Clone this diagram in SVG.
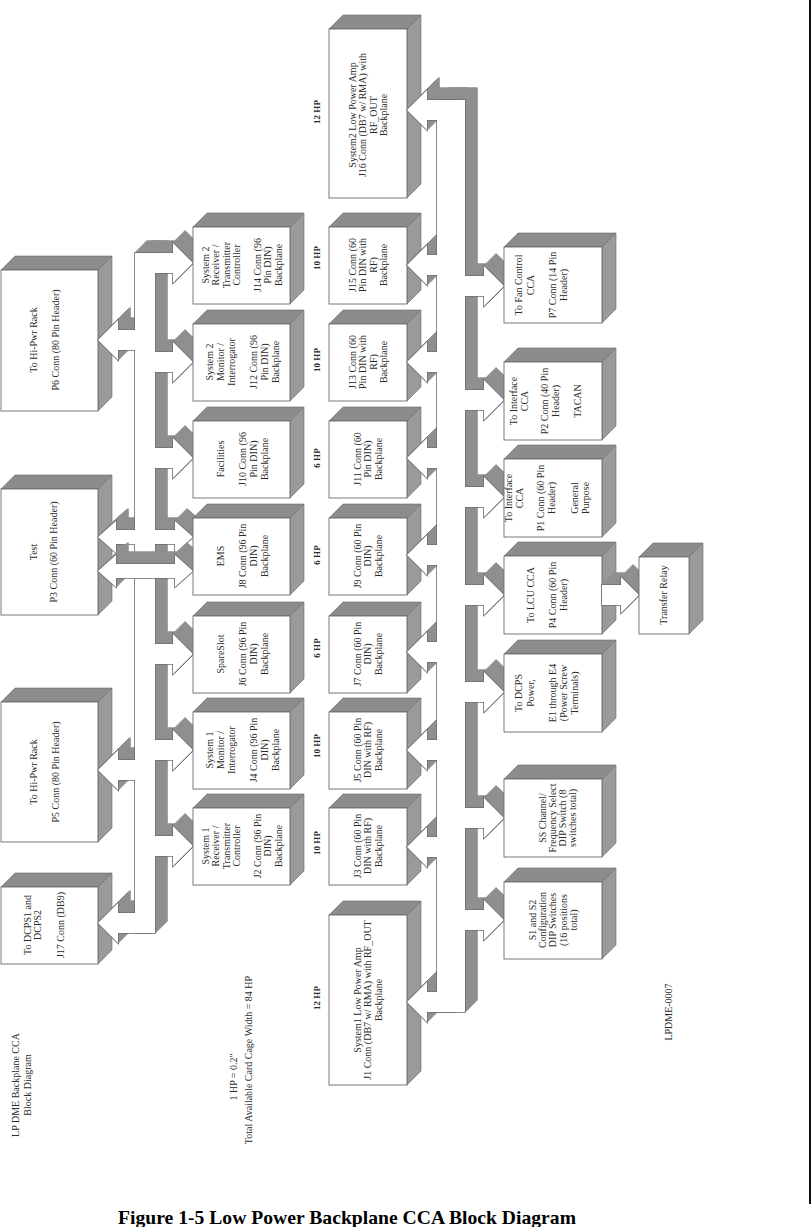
<svg xmlns="http://www.w3.org/2000/svg" width="812" height="1227" viewBox="0 0 812 1227">
<style>
.ft{fill:#fff;stroke:#6a6a6a;stroke-width:0.9}
.tp{fill:#8c8c8c;stroke:#6a6a6a;stroke-width:0.6}
.sd{fill:#9a9a9a;stroke:#6a6a6a;stroke-width:0.6}
.ex{fill:#8f8f8f;stroke:#8f8f8f;stroke-width:1.6;stroke-linejoin:round}
.ol{fill:none;stroke:#6e6e6e;stroke-width:1.6}
.wf{fill:#fff;stroke:none}
.t{font-family:"Liberation Serif","Times New Roman",serif;font-size:10px;fill:#2a2a2a;text-anchor:middle}
.hp{font-family:"Liberation Serif","Times New Roman",serif;font-size:9px;font-weight:bold;fill:#2a2a2a;text-anchor:middle}
.cap{font-family:"Liberation Serif","Times New Roman",serif;font-size:19px;font-weight:bold;fill:#000}
</style>
<defs>
<g id="cf">
<rect x="135" y="253" width="20" height="680"/>
<polygon points="140,253 173,253 173,243 193,263 173,283 173,273 140,273"/>
<polygon points="145,352 173,352 173,342 193,362 173,382 173,372 145,372"/>
<polygon points="145,448 173,448 173,438 193,458 173,478 173,468 145,468"/>
<polygon points="145,644 173,644 173,634 193,654 173,674 173,664 145,664"/>
<polygon points="145,740 173,740 173,730 193,750 173,770 173,760 145,760"/>
<polygon points="145,836 173,836 173,826 193,846 173,866 173,856 145,856"/>
<polygon points="145,330 118,330 118,320 98,340 118,360 118,350 145,350"/>
<polygon points="145,760 118,760 118,750 98,770 118,790 118,780 145,780"/>
<polygon points="150,913 118,913 118,903 98,923 118,943 118,933 150,933"/>
<polygon points="98,537 116,521 116,530 175,530 175,521 193,537 175,553 175,544 116,544 116,553"/>
<rect x="437" y="100" width="28" height="912"/>
<polygon points="455,100 427,100 427,90 407,110 427,130 427,120 455,120"/>
<polygon points="455,255 427,255 427,245 407,265 427,285 427,275 455,275"/>
<polygon points="455,352 427,352 427,342 407,362 427,382 427,372 455,372"/>
<polygon points="455,448 427,448 427,438 407,458 427,478 427,468 455,468"/>
<polygon points="455,545 427,545 427,535 407,555 427,575 427,565 455,565"/>
<polygon points="455,642 427,642 427,632 407,652 427,672 427,662 455,662"/>
<polygon points="455,740 427,740 427,730 407,750 427,770 427,760 455,760"/>
<polygon points="455,837 427,837 427,827 407,847 427,867 427,857 455,857"/>
<polygon points="455,992 427,992 427,982 407,1002 427,1022 427,1012 455,1012"/>
<polygon points="450,276 484,276 484,266 504,286 484,306 484,296 450,296"/>
<polygon points="450,390 484,390 484,380 504,400 484,420 484,410 450,410"/>
<polygon points="450,487 484,487 484,477 504,497 484,517 484,507 450,507"/>
<polygon points="450,585 484,585 484,575 504,595 484,615 484,605 450,605"/>
<polygon points="450,682 484,682 484,672 504,692 484,712 484,702 450,702"/>
<polygon points="450,808 484,808 484,798 504,818 484,838 484,828 450,828"/>
<polygon points="450,910 484,910 484,900 504,920 484,940 484,930 450,930"/>
</g>
<g id="cfB">
<polygon points="98,571 116,555 116,564 175,564 175,555 193,571 175,587 175,578 116,578 116,587"/>
</g>
<g id="cfR">
<polygon points="602,585 621,585 621,577 639,595 621,613 621,605 602,605"/>
</g>
</defs>

<g id="n-p6"><polygon class="tp" points="1,270 15,256 112,256 98,270"/><polygon class="sd" points="98,270 112,256 112,397 98,411"/><rect class="ft" x="1" y="270" width="97" height="141"/>
<text class="t" transform="translate(0,340) rotate(-90)"><tspan x="0" y="36.5">To Hi-Pwr Rack</tspan><tspan x="0" y="58.5">P6 Conn (80 Pin Header)</tspan></text></g>
<g id="n-p3"><polygon class="tp" points="1,489 15,475 112,475 98,489"/><polygon class="sd" points="98,489 112,475 112,601 98,615"/><rect class="ft" x="1" y="489" width="97" height="126"/>
<text class="t" transform="translate(0,552) rotate(-90)"><tspan x="0" y="36.5">Test</tspan><tspan x="0" y="56.5">P3 Conn (60 Pin Header)</tspan></text></g>
<g id="n-p5"><polygon class="tp" points="1,702 15,688 112,688 98,702"/><polygon class="sd" points="98,702 112,688 112,828 98,842"/><rect class="ft" x="1" y="702" width="97" height="140"/>
<text class="t" transform="translate(0,772) rotate(-90)"><tspan x="0" y="36.5">To Hi-Pwr Rack</tspan><tspan x="0" y="58.5">P5 Conn (80 Pin Header)</tspan></text></g>
<g id="n-j17"><polygon class="tp" points="1,887 15,873 112,873 98,887"/><polygon class="sd" points="98,887 112,873 112,950 98,964"/><rect class="ft" x="1" y="887" width="97" height="77"/>
<text class="t" transform="translate(0,925) rotate(-90)"><tspan x="0" y="30.5">To DCPS1 and</tspan><tspan x="0" y="40.5">DCPS2</tspan><tspan x="0" y="63.5">J17 Conn (DB9)</tspan></text></g>

<g id="n-j16"><polygon class="tp" points="329,29 343,15 421,15 407,29"/><polygon class="sd" points="407,29 421,15 421,184 407,198"/><rect class="ft" x="329" y="29" width="78" height="169"/>
<text class="t" transform="translate(0,115) rotate(-90)"><tspan x="0" y="355.5">System2 Low Power Amp</tspan><tspan x="0" y="366">J16 Conn (DB7 w/ RMA) with</tspan><tspan x="0" y="376.5">RF_OUT</tspan><tspan x="0" y="387">Backplane</tspan></text></g>
<g id="n-j15"><polygon class="tp" points="329,227 343,213 421,213 407,227"/><polygon class="sd" points="407,227 421,213 421,290 407,304"/><rect class="ft" x="329" y="227" width="78" height="77"/>
<text class="t" transform="translate(0,265) rotate(-90)"><tspan x="0" y="355.5">J15 Conn (60</tspan><tspan x="0" y="366">Pin DIN with</tspan><tspan x="0" y="376.5">RF)</tspan><tspan x="0" y="387">Backplane</tspan></text></g>
<g id="n-j13"><polygon class="tp" points="329,324 343,310 421,310 407,324"/><polygon class="sd" points="407,324 421,310 421,387 407,401"/><rect class="ft" x="329" y="324" width="78" height="77"/>
<text class="t" transform="translate(0,362) rotate(-90)"><tspan x="0" y="355.5">J13 Conn (60</tspan><tspan x="0" y="366">Pin DIN with</tspan><tspan x="0" y="376.5">RF)</tspan><tspan x="0" y="387">Backplane</tspan></text></g>
<g id="n-j11"><polygon class="tp" points="329,421 343,407 421,407 407,421"/><polygon class="sd" points="407,421 421,407 421,484 407,498"/><rect class="ft" x="329" y="421" width="78" height="77"/>
<text class="t" transform="translate(0,459) rotate(-90)"><tspan x="0" y="360.5">J11 Conn (60</tspan><tspan x="0" y="371">Pin DIN)</tspan><tspan x="0" y="381.5">Backplane</tspan></text></g>
<g id="n-j9"><polygon class="tp" points="329,518 343,504 421,504 407,518"/><polygon class="sd" points="407,518 421,504 421,581 407,595"/><rect class="ft" x="329" y="518" width="78" height="77"/>
<text class="t" transform="translate(0,556) rotate(-90)"><tspan x="0" y="360.5">J9 Conn (60 Pin</tspan><tspan x="0" y="371">DIN)</tspan><tspan x="0" y="381.5">Backplane</tspan></text></g>
<g id="n-j7"><polygon class="tp" points="329,616 343,602 421,602 407,616"/><polygon class="sd" points="407,616 421,602 421,679 407,693"/><rect class="ft" x="329" y="616" width="78" height="77"/>
<text class="t" transform="translate(0,654) rotate(-90)"><tspan x="0" y="360.5">J7 Conn (60 Pin</tspan><tspan x="0" y="371">DIN)</tspan><tspan x="0" y="381.5">Backplane</tspan></text></g>
<g id="n-j5"><polygon class="tp" points="329,712 343,698 421,698 407,712"/><polygon class="sd" points="407,712 421,698 421,775 407,789"/><rect class="ft" x="329" y="712" width="78" height="77"/>
<text class="t" transform="translate(0,750) rotate(-90)"><tspan x="0" y="360.5">J5 Conn (60 Pin</tspan><tspan x="0" y="371">DIN with RF)</tspan><tspan x="0" y="381.5">Backplane</tspan></text></g>
<g id="n-j3"><polygon class="tp" points="329,808 343,794 421,794 407,808"/><polygon class="sd" points="407,808 421,794 421,871 407,885"/><rect class="ft" x="329" y="808" width="78" height="77"/>
<text class="t" transform="translate(0,846) rotate(-90)"><tspan x="0" y="360.5">J3 Conn (60 Pin</tspan><tspan x="0" y="371">DIN with RF)</tspan><tspan x="0" y="381.5">Backplane</tspan></text></g>
<g id="n-j1"><polygon class="tp" points="329,915 343,901 421,901 407,915"/><polygon class="sd" points="407,915 421,901 421,1071 407,1085"/><rect class="ft" x="329" y="915" width="78" height="170"/>
<text class="t" transform="translate(0,1000) rotate(-90)"><tspan x="0" y="360.5">System1 Low Power Amp</tspan><tspan x="0" y="371">J1 Conn (DB7 w/ RMA) with RF_OUT</tspan><tspan x="0" y="381.5">Backplane</tspan></text></g>

<g id="connectors">
<g class="ex">
<use href="#cf" transform="translate(1,-1)"/><use href="#cf" transform="translate(2,-2)"/><use href="#cf" transform="translate(3,-3)"/><use href="#cf" transform="translate(4,-4)"/><use href="#cf" transform="translate(5,-5)"/><use href="#cf" transform="translate(6,-6)"/><use href="#cf" transform="translate(7,-7)"/><use href="#cf" transform="translate(8,-8)"/><use href="#cf" transform="translate(9,-9)"/><use href="#cf" transform="translate(10,-10)"/><use href="#cf" transform="translate(11,-11)"/><use href="#cf" transform="translate(12,-12)"/>
</g>
<use href="#cf" class="ol"/>
<use href="#cf" class="wf"/>
<g class="ex">
<use href="#cfB" transform="translate(1,-1)"/><use href="#cfB" transform="translate(2,-2)"/><use href="#cfB" transform="translate(3,-3)"/><use href="#cfB" transform="translate(4,-4)"/><use href="#cfB" transform="translate(5,-5)"/><use href="#cfB" transform="translate(6,-6)"/><use href="#cfB" transform="translate(7,-7)"/><use href="#cfB" transform="translate(8,-8)"/><use href="#cfB" transform="translate(9,-9)"/><use href="#cfB" transform="translate(10,-10)"/><use href="#cfB" transform="translate(11,-11)"/><use href="#cfB" transform="translate(12,-12)"/>
</g>
<use href="#cfB" class="ol"/>
<use href="#cfB" class="wf"/>
</g>

<g id="n-j14"><polygon class="tp" points="193,227 207,213 304,213 290,227"/><polygon class="sd" points="290,227 304,213 304,290 290,304"/><rect class="ft" x="193" y="227" width="97" height="77"/>
<text class="t" transform="translate(0,265) rotate(-90)"><tspan x="0" y="208.5">System 2</tspan><tspan x="0" y="219">Receiver /</tspan><tspan x="0" y="229.5">Transmitter</tspan><tspan x="0" y="240">Controller</tspan><tspan x="0" y="260.5">J14 Conn (96</tspan><tspan x="0" y="271">Pin DIN)</tspan><tspan x="0" y="281.5">Backplane</tspan></text></g>
<g id="n-j12"><polygon class="tp" points="193,324 207,310 304,310 290,324"/><polygon class="sd" points="290,324 304,310 304,387 290,401"/><rect class="ft" x="193" y="324" width="97" height="77"/>
<text class="t" transform="translate(0,362) rotate(-90)"><tspan x="0" y="212.5">System 2</tspan><tspan x="0" y="223.5">Monitor /</tspan><tspan x="0" y="234.5">Interrogator</tspan><tspan x="0" y="256.5">J12 Conn (96</tspan><tspan x="0" y="267.5">Pin DIN)</tspan><tspan x="0" y="278.5">Backplane</tspan></text></g>
<g id="n-j10"><polygon class="tp" points="193,421 207,407 304,407 290,421"/><polygon class="sd" points="290,421 304,407 304,484 290,498"/><rect class="ft" x="193" y="421" width="97" height="77"/>
<text class="t" transform="translate(0,459) rotate(-90)"><tspan x="0" y="223.5">Facilities</tspan><tspan x="0" y="245.5">J10 Conn (96</tspan><tspan x="0" y="256.5">Pin DIN)</tspan><tspan x="0" y="267.5">Backplane</tspan></text></g>
<g id="n-j8"><polygon class="tp" points="193,518 207,504 304,504 290,518"/><polygon class="sd" points="290,518 304,504 304,581 290,595"/><rect class="ft" x="193" y="518" width="97" height="77"/>
<text class="t" transform="translate(0,556) rotate(-90)"><tspan x="0" y="223.5">EMS</tspan><tspan x="0" y="245.5">J8 Conn (96 Pin</tspan><tspan x="0" y="256.5">DIN)</tspan><tspan x="0" y="267.5">Backplane</tspan></text></g>
<g id="n-j6"><polygon class="tp" points="193,616 207,602 304,602 290,616"/><polygon class="sd" points="290,616 304,602 304,679 290,693"/><rect class="ft" x="193" y="616" width="97" height="77"/>
<text class="t" transform="translate(0,654) rotate(-90)"><tspan x="0" y="223.5">SpareSlot</tspan><tspan x="0" y="245.5">J6 Conn (96 Pin</tspan><tspan x="0" y="256.5">DIN)</tspan><tspan x="0" y="267.5">Backplane</tspan></text></g>
<g id="n-j4"><polygon class="tp" points="193,712 207,698 304,698 290,712"/><polygon class="sd" points="290,712 304,698 304,775 290,789"/><rect class="ft" x="193" y="712" width="97" height="77"/>
<text class="t" transform="translate(0,750) rotate(-90)"><tspan x="0" y="212.5">System 1</tspan><tspan x="0" y="223.5">Monitor /</tspan><tspan x="0" y="234.5">Interrogator</tspan><tspan x="0" y="256.5">J4 Conn (96 Pin</tspan><tspan x="0" y="267.5">DIN)</tspan><tspan x="0" y="278.5">Backplane</tspan></text></g>
<g id="n-j2"><polygon class="tp" points="193,808 207,794 304,794 290,808"/><polygon class="sd" points="290,808 304,794 304,871 290,885"/><rect class="ft" x="193" y="808" width="97" height="77"/>
<text class="t" transform="translate(0,846) rotate(-90)"><tspan x="0" y="208.5">System 1</tspan><tspan x="0" y="219">Receiver /</tspan><tspan x="0" y="229.5">Transmitter</tspan><tspan x="0" y="240">Controller</tspan><tspan x="0" y="260.5">J2 Conn (96 Pin</tspan><tspan x="0" y="271">DIN)</tspan><tspan x="0" y="281.5">Backplane</tspan></text></g>

<g id="n-p7"><polygon class="tp" points="504,247 518,233 616,233 602,247"/><polygon class="sd" points="602,247 616,233 616,309 602,323"/><rect class="ft" x="504" y="247" width="98" height="76"/>
<text class="t" transform="translate(0,285) rotate(-90)"><tspan x="0" y="521.5">To Fan Control</tspan><tspan x="0" y="533.5">CCA</tspan><tspan x="0" y="555.5">P7 Conn (14 Pin</tspan><tspan x="0" y="566.5">Header)</tspan></text></g>
<g id="n-p2"><polygon class="tp" points="504,362 518,348 616,348 602,362"/><polygon class="sd" points="602,362 616,348 616,426 602,440"/><rect class="ft" x="504" y="362" width="98" height="78"/>
<text class="t" transform="translate(0,401) rotate(-90)"><tspan x="0" y="516.5">To Interface</tspan><tspan x="0" y="527.5">CCA</tspan><tspan x="0" y="547.5">P2 Conn (40 Pin</tspan><tspan x="0" y="558.5">Header)</tspan><tspan x="0" y="580.5">TACAN</tspan></text></g>
<g id="n-p1"><polygon class="tp" points="504,459 518,445 616,445 602,459"/><polygon class="sd" points="602,459 616,445 616,523 602,537"/><rect class="ft" x="504" y="459" width="98" height="78"/>
<text class="t" transform="translate(0,498) rotate(-90)"><tspan x="0" y="511.5">To Interface</tspan><tspan x="0" y="522.5">CCA</tspan><tspan x="0" y="543.5">P1 Conn (60 Pin</tspan><tspan x="0" y="554.5">Header)</tspan><tspan x="0" y="577.5">General</tspan><tspan x="0" y="588.5">Purpose</tspan></text></g>
<g id="n-p4"><polygon class="tp" points="504,556 518,542 616,542 602,556"/><polygon class="sd" points="602,556 616,542 616,620 602,634"/><rect class="ft" x="504" y="556" width="98" height="78"/>
<text class="t" transform="translate(0,595) rotate(-90)"><tspan x="0" y="533.5">To LCU CCA</tspan><tspan x="0" y="555.5">P4 Conn (60 Pin</tspan><tspan x="0" y="566.5">Header)</tspan></text></g>
<g id="n-e1"><polygon class="tp" points="504,654 518,640 616,640 602,654"/><polygon class="sd" points="602,654 616,640 616,718 602,732"/><rect class="ft" x="504" y="654" width="98" height="78"/>
<text class="t" transform="translate(0,693) rotate(-90)"><tspan x="0" y="521.5">To DCPS</tspan><tspan x="0" y="533.5">Power,</tspan><tspan x="0" y="555.5">E1 through E4</tspan><tspan x="0" y="566.5">(Power Screw</tspan><tspan x="0" y="577.5">Terminals)</tspan></text></g>
<g id="n-s8"><polygon class="tp" points="504,779 518,765 616,765 602,779"/><polygon class="sd" points="602,779 616,765 616,843 602,857"/><rect class="ft" x="504" y="779" width="98" height="78"/>
<text class="t" transform="translate(0,818) rotate(-90)"><tspan x="0" y="545.5">SS Channel/</tspan><tspan x="0" y="555.5">Frequency Select</tspan><tspan x="0" y="565.5">DIP Switch (8</tspan><tspan x="0" y="575.5">switches total)</tspan></text></g>
<g id="n-s1s2"><polygon class="tp" points="504,882 518,868 616,868 602,882"/><polygon class="sd" points="602,882 616,868 616,945 602,959"/><rect class="ft" x="504" y="882" width="98" height="77"/>
<text class="t" transform="translate(0,920) rotate(-90)"><tspan x="0" y="535.5">S1 and S2</tspan><tspan x="0" y="545.5">Configuration</tspan><tspan x="0" y="555.5">DIP Switches</tspan><tspan x="0" y="566.5">(16 positions</tspan><tspan x="0" y="576.5">total)</tspan></text></g>

<g id="connector-lcu-relay">
<g class="ex">
<use href="#cfR" transform="translate(1,-1)"/><use href="#cfR" transform="translate(2,-2)"/><use href="#cfR" transform="translate(3,-3)"/><use href="#cfR" transform="translate(4,-4)"/><use href="#cfR" transform="translate(5,-5)"/><use href="#cfR" transform="translate(6,-6)"/><use href="#cfR" transform="translate(7,-7)"/><use href="#cfR" transform="translate(8,-8)"/><use href="#cfR" transform="translate(9,-9)"/><use href="#cfR" transform="translate(10,-10)"/><use href="#cfR" transform="translate(11,-11)"/><use href="#cfR" transform="translate(12,-12)"/>
</g>
<use href="#cfR" class="ol"/>
<use href="#cfR" class="wf"/>
</g>

<g id="n-relay"><polygon class="tp" points="639,557 653,543 703,543 689,557"/><polygon class="sd" points="689,557 703,543 703,620 689,634"/><rect class="ft" x="639" y="557" width="50" height="77"/>
<text class="t" transform="translate(0,595) rotate(-90)"><tspan x="0" y="666.5">Transfer Relay</tspan></text></g>

<g id="labels">
<text class="hp" transform="translate(320,112) rotate(-90)">12 HP</text>
<text class="hp" transform="translate(320,258) rotate(-90)">10 HP</text>
<text class="hp" transform="translate(320,360) rotate(-90)">10 HP</text>
<text class="hp" transform="translate(320,458) rotate(-90)">6 HP</text>
<text class="hp" transform="translate(320,555) rotate(-90)">6 HP</text>
<text class="hp" transform="translate(320,648) rotate(-90)">6 HP</text>
<text class="hp" transform="translate(320,746) rotate(-90)">10 HP</text>
<text class="hp" transform="translate(320,843) rotate(-90)">10 HP</text>
<text class="hp" transform="translate(320,998) rotate(-90)">12 HP</text>
<text class="t" transform="translate(0,1085) rotate(-90)"><tspan x="0" y="18.5">LP DME Backplane CCA</tspan><tspan x="0" y="30.5">Block Diagram</tspan></text>
<text class="t" transform="translate(236.5,1077) rotate(-90)">1 HP = 0.2"</text>
<text class="t" transform="translate(251.5,1060) rotate(-90)">Total Available Card Cage Width = 84 HP</text>
<text class="t" transform="translate(671.5,1012) rotate(-90)">LPDME-0007</text>
<text class="cap" x="118" y="1224" textLength="458" lengthAdjust="spacingAndGlyphs">Figure 1-5 Low Power Backplane CCA Block Diagram</text>
</g>
<line x1="810" y1="0" x2="810" y2="1204" stroke="#111" stroke-width="2"/>
</svg>
